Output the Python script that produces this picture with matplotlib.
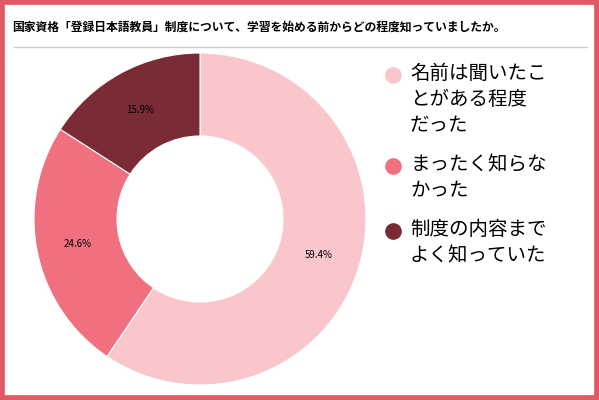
import matplotlib
matplotlib.use("Agg")
import matplotlib.pyplot as plt
from matplotlib.patches import Rectangle
import numpy as np

plt.rcParams['font.family'] = ['Noto Sans CJK JP', 'DejaVu Sans']

title = "国家資格「登録日本語教員」制度について、学習を始める前からどの程度知っていましたか。"
labels = ["名前は聞いたこ\nとがある程度\nだった", "まったく知らな\nかった", "制度の内容まで\nよく知っていた"]
values = [59.4, 24.6, 15.9]
colors = ["#f9c6cc", "#f07080", "#7b2b35"]

W, H = 599, 400
fig = plt.figure(figsize=(W/100, H/100), dpi=100)
fig.patches.append(Rectangle((0, 0), 1, 1, transform=fig.transFigure, fill=False,
                             edgecolor="#e05a66", linewidth=7))
fig.text(12/W, 1-27/H, title, fontsize=8.5, fontweight='bold', va='center', ha='left')
fig.add_artist(plt.Line2D([14/W, 587/W], [1-47/H, 1-47/H], color="#cccccc", lw=1))

cx, cy, r = 200, 219, 166
ax = fig.add_axes([(cx-r)/W, 1-(cy+r)/H, 2*r/W, 2*r/H])
wedges, _ = ax.pie(values, colors=colors, startangle=90, counterclock=False,
                   wedgeprops=dict(width=0.5, edgecolor='white', linewidth=0.8))
ax.set_xlim(-1, 1)
ax.set_ylim(-1, 1)
ax.set_aspect('equal')
ang = 90.0
tot = sum(values)
for v in values:
    mid = ang - v/tot*360/2
    ang -= v/tot*360
    t = np.deg2rad(mid)
    ax.text(0.75*np.cos(t), 0.75*np.sin(t), f"{v}%", fontsize=7, ha='center', va='center')

ys = [75, 166, 231]
for lab, c, y in zip(labels, colors, ys):
    fig.add_artist(plt.Line2D([393/W], [1-(y)/H], marker='o', markersize=11,
                              color=c, linestyle='none'))
    fig.text(410/W, 1-(y-12)/H, lab, fontsize=14, va='top', ha='left', linespacing=1.32)

fig.savefig("out.png", dpi=100)
